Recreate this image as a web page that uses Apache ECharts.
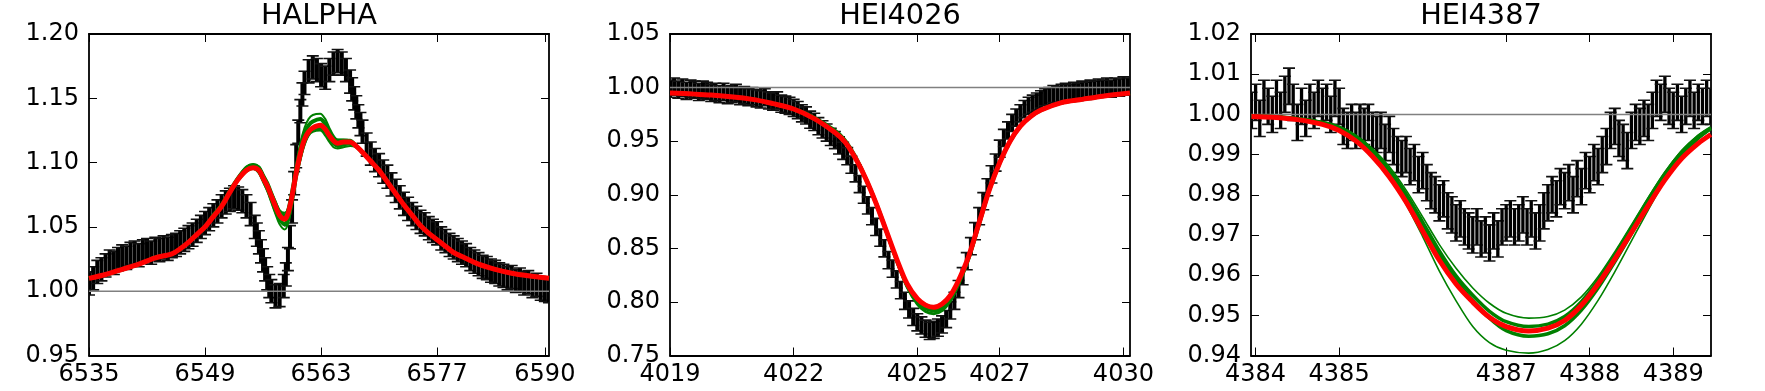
<!DOCTYPE html>
<html>
<head>
<meta charset="utf-8">
<title>Line profile fits</title>
<script src="https://cdn.jsdelivr.net/npm/echarts@6.0.0/dist/echarts.min.js"></script>
<style>
  html, body { margin: 0; padding: 0; background: #fff; }
  #main { width: 1765px; height: 391px; }
</style>
</head>
<body>
<div id="main"></div>
<script>
// panel titles and axes
const titles = ['HALPHA', 'HEI4026', 'HEI4387'];
const xMin = [6535, 4019, 4383.945];
const xMax = [6590.5, 4030.16, 4389.452];
const xTicks = [
    [6535, 6549, 6563, 6577, 6590],
    [4019, 4022, 4025, 4027, 4030],
    [4384, 4385, 4387, 4388, 4389]
];
const yMin = [0.95, 0.75, 0.94];
const yMax = [1.20, 1.05, 1.02];
const yStep = [0.05, 0.05, 0.01];
const continuum = 1.0;

// H-alpha: observed spectrum
const haWave = [
    6535, 6535.5, 6536, 6536.5, 6537, 6537.5, 6538, 6538.5, 6539, 6539.5,
    6540, 6540.5, 6541, 6541.5, 6542, 6542.5, 6543, 6543.5, 6544, 6544.5,
    6545, 6545.5, 6546, 6546.5, 6547, 6547.5, 6548, 6548.5, 6549, 6549.5,
    6550, 6550.5, 6551, 6551.5, 6552, 6552.5, 6553, 6553.5, 6554, 6554.5,
    6555, 6555.25, 6555.5, 6555.75, 6556, 6556.25, 6556.5, 6556.75, 6557, 6557.5,
    6558, 6558.5, 6558.75, 6559, 6559.25, 6559.5, 6559.75, 6560, 6560.25, 6560.5,
    6560.75, 6561, 6561.5, 6562, 6562.5, 6563, 6563.5, 6564, 6564.5, 6565,
    6565.5, 6566, 6566.5, 6566.75, 6567, 6567.25, 6567.5, 6567.75, 6568, 6568.5,
    6569, 6569.5, 6570, 6570.5, 6571, 6571.5, 6572, 6572.5, 6573, 6573.5,
    6574, 6574.5, 6575, 6575.5, 6576, 6576.5, 6577, 6577.5, 6578, 6578.5,
    6579, 6579.5, 6580, 6580.5, 6581, 6581.5, 6582, 6582.5, 6583, 6583.5,
    6584, 6584.5, 6585, 6585.5, 6586, 6586.5, 6587, 6587.5, 6588, 6588.5,
    6589, 6589.5, 6590, 6590.5
];
const haFlux = [
    1.006, 1.010, 1.015, 1.017, 1.020, 1.023, 1.022, 1.025, 1.027, 1.026,
    1.029, 1.030, 1.028, 1.031, 1.032, 1.030, 1.033, 1.032, 1.034, 1.033,
    1.035, 1.036, 1.038, 1.040, 1.042, 1.044, 1.047, 1.050, 1.053, 1.056,
    1.059, 1.062, 1.066, 1.069, 1.071, 1.073, 1.072, 1.070, 1.066, 1.060,
    1.050, 1.044, 1.038, 1.031, 1.024, 1.017, 1.010, 1.004, 1.000, 0.996,
    0.997, 1.004, 1.013, 1.025, 1.042, 1.062, 1.084, 1.105, 1.124, 1.140,
    1.153, 1.162, 1.171, 1.174, 1.172, 1.168, 1.166, 1.172, 1.177, 1.179,
    1.177, 1.172, 1.163, 1.157, 1.150, 1.143, 1.136, 1.130, 1.124, 1.114,
    1.107, 1.102, 1.098, 1.093, 1.089, 1.083, 1.078, 1.073, 1.068, 1.064,
    1.060, 1.057, 1.054, 1.052, 1.049, 1.047, 1.045, 1.041, 1.039, 1.036,
    1.034, 1.032, 1.030, 1.028, 1.025, 1.023, 1.021, 1.019, 1.018, 1.016,
    1.015, 1.013, 1.012, 1.010, 1.011, 1.008, 1.009, 1.006, 1.007, 1.004,
    1.005, 1.002, 1.001, 1.000
];
const haErr = 0.009;

// H-alpha: model (best fit in red, samples in green)
const haModelWave = [
    6535, 6537, 6539, 6541, 6543, 6545, 6546, 6547, 6548, 6549,
    6550, 6551, 6552, 6553, 6554, 6554.8, 6555.5, 6556, 6556.5, 6557,
    6557.5, 6558, 6558.6, 6559, 6559.5, 6560, 6560.5, 6561, 6561.5, 6562,
    6562.9, 6563.5, 6564, 6564.5, 6565, 6565.7, 6566.5, 6567.2, 6568, 6569,
    6570, 6571, 6572, 6573, 6574, 6575, 6576, 6577, 6578, 6579,
    6580, 6582, 6584, 6586, 6588, 6590.5
];
const haBest = [
    1.010, 1.013, 1.017, 1.021, 1.026, 1.029, 1.033, 1.038, 1.044, 1.050,
    1.058, 1.066, 1.077, 1.087, 1.094, 1.096, 1.094, 1.088, 1.082, 1.074,
    1.066, 1.059, 1.056, 1.060, 1.074, 1.092, 1.107, 1.118, 1.124, 1.127,
    1.129, 1.126, 1.121, 1.117, 1.115, 1.116, 1.116, 1.113, 1.108, 1.101,
    1.094, 1.085, 1.076, 1.067, 1.059, 1.051, 1.045, 1.040, 1.035, 1.030,
    1.027, 1.021, 1.017, 1.014, 1.012, 1.010
];
const haSampleHi = [
    1.010, 1.013, 1.017, 1.021, 1.026, 1.029, 1.033, 1.038, 1.044, 1.050,
    1.059, 1.068, 1.079, 1.089, 1.097, 1.099, 1.097, 1.091, 1.085, 1.077,
    1.070, 1.063, 1.061, 1.064, 1.079, 1.098, 1.115, 1.127, 1.134, 1.137,
    1.138, 1.134, 1.127, 1.121, 1.118, 1.118, 1.117, 1.113, 1.108, 1.101,
    1.094, 1.085, 1.076, 1.067, 1.059, 1.051, 1.045, 1.040, 1.035, 1.030,
    1.027, 1.021, 1.017, 1.014, 1.012, 1.010
];
const haSampleMidHi = [
    1.010, 1.013, 1.017, 1.021, 1.026, 1.029, 1.033, 1.038, 1.044, 1.050,
    1.059, 1.067, 1.078, 1.088, 1.096, 1.098, 1.096, 1.090, 1.084, 1.076,
    1.068, 1.061, 1.059, 1.062, 1.077, 1.095, 1.111, 1.123, 1.129, 1.132,
    1.134, 1.130, 1.124, 1.119, 1.117, 1.117, 1.117, 1.113, 1.108, 1.101,
    1.094, 1.085, 1.076, 1.067, 1.059, 1.051, 1.045, 1.040, 1.035, 1.030,
    1.027, 1.021, 1.017, 1.014, 1.012, 1.010
];
const haSampleMidLo = [
    1.010, 1.013, 1.017, 1.021, 1.026, 1.029, 1.033, 1.038, 1.044, 1.050,
    1.058, 1.066, 1.077, 1.087, 1.094, 1.096, 1.093, 1.087, 1.080, 1.072,
    1.063, 1.056, 1.052, 1.056, 1.071, 1.090, 1.105, 1.116, 1.123, 1.126,
    1.127, 1.124, 1.119, 1.115, 1.113, 1.114, 1.115, 1.113, 1.108, 1.101,
    1.094, 1.085, 1.076, 1.067, 1.059, 1.051, 1.045, 1.040, 1.035, 1.030,
    1.027, 1.021, 1.017, 1.014, 1.012, 1.010
];
const haSampleLo = [
    1.010, 1.013, 1.017, 1.021, 1.026, 1.029, 1.033, 1.038, 1.044, 1.050,
    1.058, 1.066, 1.076, 1.086, 1.093, 1.095, 1.092, 1.085, 1.078, 1.069,
    1.060, 1.052, 1.048, 1.052, 1.067, 1.087, 1.102, 1.114, 1.121, 1.124,
    1.125, 1.121, 1.116, 1.112, 1.111, 1.112, 1.113, 1.112, 1.108, 1.101,
    1.094, 1.085, 1.076, 1.067, 1.059, 1.051, 1.045, 1.040, 1.035, 1.030,
    1.027, 1.021, 1.017, 1.014, 1.012, 1.010
];

// He I 4026: observed spectrum
const he1Wave = [
    4019.0, 4019.1, 4019.2, 4019.3, 4019.4, 4019.5, 4019.6, 4019.7, 4019.8, 4019.9,
    4020.0, 4020.1, 4020.2, 4020.3, 4020.4, 4020.5, 4020.6, 4020.7, 4020.8, 4020.9,
    4021.0, 4021.1, 4021.2, 4021.3, 4021.4, 4021.5, 4021.6, 4021.7, 4021.8, 4021.9,
    4022.0, 4022.1, 4022.2, 4022.3, 4022.4, 4022.5, 4022.6, 4022.7, 4022.8, 4022.9,
    4023.0, 4023.1, 4023.2, 4023.3, 4023.4, 4023.5, 4023.6, 4023.7, 4023.8, 4023.9,
    4024.0, 4024.1, 4024.2, 4024.3, 4024.4, 4024.5, 4024.6, 4024.7, 4024.8, 4024.9,
    4025.0, 4025.1, 4025.2, 4025.3, 4025.4, 4025.5, 4025.6, 4025.7, 4025.8, 4025.9,
    4026.0, 4026.1, 4026.2, 4026.3, 4026.4, 4026.5, 4026.6, 4026.7, 4026.8, 4026.9,
    4027.0, 4027.1, 4027.2, 4027.3, 4027.4, 4027.5, 4027.6, 4027.7, 4027.8, 4027.9,
    4028.0, 4028.1, 4028.2, 4028.3, 4028.4, 4028.5, 4028.6, 4028.7, 4028.8, 4028.9,
    4029.0, 4029.1, 4029.2, 4029.3, 4029.4, 4029.5, 4029.6, 4029.7, 4029.8, 4029.9,
    4030.0, 4030.1
];
const he1Flux = [
    0.999, 1.001, 0.998, 1.000, 0.997, 0.999, 0.998, 0.996, 0.998, 0.997,
    0.995, 0.996, 0.994, 0.996, 0.993, 0.994, 0.995, 0.992, 0.993, 0.991,
    0.992, 0.990, 0.989, 0.991, 0.988, 0.987, 0.988, 0.985, 0.984, 0.983,
    0.981, 0.979, 0.976, 0.974, 0.970, 0.968, 0.964, 0.961, 0.958, 0.954,
    0.951, 0.946, 0.941, 0.936, 0.928, 0.920, 0.910, 0.900, 0.890, 0.880,
    0.870, 0.860, 0.850, 0.839, 0.831, 0.821, 0.811, 0.801, 0.793, 0.786,
    0.781, 0.778, 0.775, 0.773, 0.774, 0.776, 0.779, 0.784, 0.792, 0.801,
    0.812, 0.824, 0.838, 0.852, 0.866, 0.880, 0.894, 0.907, 0.919, 0.930,
    0.943, 0.953, 0.960, 0.967, 0.972, 0.976, 0.980, 0.983, 0.985, 0.987,
    0.989, 0.991, 0.992, 0.994, 0.993, 0.995, 0.996, 0.995, 0.997, 0.996,
    0.998, 0.997, 0.999, 0.998, 1.000, 0.999, 1.001, 0.999, 1.001, 1.000,
    1.002, 1.001
];
const he1Err = 0.008;

// He I 4026: model
const he1ModelWave = [
    4019, 4020, 4021, 4021.5, 4022, 4022.5, 4023, 4023.25, 4023.5, 4023.75,
    4024, 4024.25, 4024.5, 4024.75, 4025, 4025.2, 4025.4, 4025.6, 4025.8, 4026,
    4026.25, 4026.5, 4026.75, 4027, 4027.25, 4027.5, 4027.75, 4028, 4028.5, 4029,
    4029.5, 4030.16
];
const he1Best = [
    0.995, 0.993, 0.989, 0.985, 0.980, 0.971, 0.958, 0.949, 0.934, 0.915,
    0.892, 0.866, 0.840, 0.817, 0.803, 0.797, 0.795, 0.798, 0.806, 0.820,
    0.843, 0.874, 0.905, 0.930, 0.950, 0.964, 0.973, 0.979, 0.986, 0.989,
    0.992, 0.995
];
const he1SampleHi = [
    0.995, 0.993, 0.989, 0.985, 0.981, 0.973, 0.961, 0.952, 0.937, 0.917,
    0.893, 0.867, 0.841, 0.818, 0.804, 0.798, 0.796, 0.799, 0.807, 0.821,
    0.844, 0.875, 0.906, 0.931, 0.951, 0.965, 0.974, 0.980, 0.986, 0.989,
    0.992, 0.995
];
const he1SampleMid = [
    0.995, 0.993, 0.989, 0.985, 0.980, 0.971, 0.958, 0.949, 0.934, 0.915,
    0.892, 0.866, 0.839, 0.816, 0.800, 0.794, 0.792, 0.795, 0.803, 0.818,
    0.842, 0.873, 0.905, 0.930, 0.950, 0.964, 0.973, 0.979, 0.986, 0.989,
    0.992, 0.995
];
const he1SampleLo = [
    0.995, 0.993, 0.989, 0.985, 0.980, 0.971, 0.958, 0.949, 0.934, 0.915,
    0.892, 0.865, 0.838, 0.814, 0.798, 0.791, 0.789, 0.792, 0.801, 0.816,
    0.840, 0.872, 0.904, 0.930, 0.950, 0.964, 0.973, 0.979, 0.986, 0.989,
    0.992, 0.995
];

// He I 4387: observed spectrum
const he2Wave = [
    4383.95, 4384.00, 4384.05, 4384.10, 4384.15, 4384.20, 4384.25, 4384.30, 4384.35, 4384.40,
    4384.45, 4384.50, 4384.55, 4384.60, 4384.65, 4384.70, 4384.75, 4384.80, 4384.85, 4384.90,
    4384.95, 4385.00, 4385.05, 4385.10, 4385.15, 4385.20, 4385.25, 4385.30, 4385.35, 4385.40,
    4385.45, 4385.50, 4385.55, 4385.60, 4385.65, 4385.70, 4385.75, 4385.80, 4385.85, 4385.90,
    4385.95, 4386.00, 4386.05, 4386.10, 4386.15, 4386.20, 4386.25, 4386.30, 4386.35, 4386.40,
    4386.45, 4386.50, 4386.55, 4386.60, 4386.65, 4386.70, 4386.75, 4386.80, 4386.85, 4386.90,
    4386.95, 4387.00, 4387.05, 4387.10, 4387.15, 4387.20, 4387.25, 4387.30, 4387.35, 4387.40,
    4387.45, 4387.50, 4387.55, 4387.60, 4387.65, 4387.70, 4387.75, 4387.80, 4387.85, 4387.90,
    4387.95, 4388.00, 4388.05, 4388.10, 4388.15, 4388.20, 4388.25, 4388.30, 4388.35, 4388.40,
    4388.45, 4388.50, 4388.55, 4388.60, 4388.65, 4388.70, 4388.75, 4388.80, 4388.85, 4388.90,
    4388.95, 4389.00, 4389.05, 4389.10, 4389.15, 4389.20, 4389.25, 4389.30, 4389.35, 4389.40,
    4389.45
];
const he2Flux = [
    1.001, 1.003, 0.999, 1.004, 1.002, 1.000, 1.004, 1.001, 1.005, 1.007,
    1.003, 0.998, 1.002, 0.999, 1.003, 1.001, 1.004, 1.002, 1.003, 1.000,
    1.004, 1.002, 0.997, 0.996, 0.998, 0.996, 0.998, 0.997, 0.998, 0.996,
    0.995, 0.996, 0.993, 0.995, 0.992, 0.990, 0.989, 0.990, 0.987, 0.988,
    0.985, 0.986, 0.983, 0.981, 0.980, 0.978, 0.979, 0.976, 0.975, 0.973,
    0.974, 0.972, 0.971, 0.970, 0.972, 0.969, 0.970, 0.968, 0.971, 0.969,
    0.972, 0.973, 0.974, 0.972, 0.973, 0.975, 0.972, 0.974, 0.971, 0.973,
    0.976, 0.978, 0.980, 0.979, 0.982, 0.981, 0.983, 0.980, 0.984, 0.982,
    0.986, 0.985, 0.988, 0.987, 0.990, 0.992, 0.996, 0.997, 0.994, 0.993,
    0.991, 0.996, 0.998, 0.997, 0.999, 0.998, 1.001, 1.004, 1.003, 1.005,
    1.002, 1.001, 1.003, 1.000, 1.002, 1.004, 1.001, 1.003, 1.002, 1.004,
    1.002
];
const he2Err = 0.0045;

// He I 4387: model
const he2ModelWave = [
    4383.95, 4384.2, 4384.5, 4384.8, 4385.0, 4385.2, 4385.4, 4385.6, 4385.8, 4386.0,
    4386.2, 4386.4, 4386.6, 4386.8, 4387.0, 4387.27, 4387.5, 4387.7, 4387.9, 4388.1,
    4388.3, 4388.5, 4388.7, 4388.9, 4389.1, 4389.3, 4389.45
];
const he2Best = [
    0.9995, 0.9993, 0.9987, 0.9975, 0.9960, 0.9934, 0.9895, 0.9845, 0.9783, 0.9710,
    0.9637, 0.9578, 0.9533, 0.9495, 0.9472, 0.9461, 0.9468, 0.9487, 0.9525, 0.9578,
    0.9640, 0.9706, 0.9773, 0.9837, 0.9890, 0.9928, 0.9950
];
const he2SampleHi = [
    0.9997, 0.9996, 0.9991, 0.9982, 0.9970, 0.9948, 0.9915, 0.9870, 0.9812, 0.9745,
    0.9676, 0.9617, 0.9568, 0.9530, 0.9505, 0.9493, 0.9497, 0.9513, 0.9546, 0.9596,
    0.9658, 0.9725, 0.9793, 0.9856, 0.9910, 0.9948, 0.9968
];
const he2SampleMidA = [
    0.9996, 0.9995, 0.9990, 0.9980, 0.9968, 0.9945, 0.9910, 0.9862, 0.9802, 0.9732,
    0.9660, 0.9598, 0.9550, 0.9510, 0.9484, 0.9472, 0.9478, 0.9497, 0.9534, 0.9587,
    0.9650, 0.9718, 0.9788, 0.9853, 0.9906, 0.9946, 0.9967
];
const he2SampleMidB = [
    0.9995, 0.9994, 0.9989, 0.9978, 0.9965, 0.9941, 0.9905, 0.9857, 0.9797, 0.9726,
    0.9652, 0.9588, 0.9537, 0.9493, 0.9462, 0.9448, 0.9454, 0.9474, 0.9513, 0.9568,
    0.9633, 0.9703, 0.9775, 0.9843, 0.9900, 0.9942, 0.9965
];
const he2SampleLo = [
    0.9996, 0.9994, 0.9988, 0.9976, 0.9962, 0.9936, 0.9897, 0.9845, 0.9777, 0.9696,
    0.9610, 0.9536, 0.9472, 0.9432, 0.9413, 0.9406, 0.9415, 0.9437, 0.9478, 0.9537,
    0.9608, 0.9685, 0.9762, 0.9835, 0.9895, 0.9938, 0.9962
];

const panels = [
    { wave: haWave, flux: haFlux, err: haErr, mw: haModelWave, best: haBest, barWidth: 4,
      samples: [haSampleHi, haSampleMidHi, haSampleMidLo, haSampleLo], sampleWidth: [2, 4, 4, 2] },
    { wave: he1Wave, flux: he1Flux, err: he1Err, mw: he1ModelWave, best: he1Best, barWidth: 4,
      samples: [he1SampleHi, he1SampleMid, he1SampleLo], sampleWidth: [2, 4, 3] },
    { wave: he2Wave, flux: he2Flux, err: he2Err, mw: he2ModelWave, best: he2Best, barWidth: 3.3,
      samples: [he2SampleHi, he2SampleMidA, he2SampleMidB, he2SampleLo], sampleWidth: [1.6, 3.5, 3.5, 1.6] }
];

const FONT = 'DejaVu Sans';
const gridLeft = [89, 670, 1251];
const gridWidth = 460;
const gridTop = 34;
const gridHeight = 321.5;

const myChart = echarts.init(document.getElementById('main'), null, { renderer: 'canvas' });

const frameLine = { show: true, onZero: false, lineStyle: { color: '#000', width: 1.8 } };
const tickStyle = { color: '#000', width: 1 };

const grids = [], xAxes = [], yAxes = [], series = [], titleList = [];

panels.forEach((p, i) => {
    grids.push({
        left: gridLeft[i], top: gridTop, width: gridWidth, height: gridHeight,
        containLabel: false, outerBoundsMode: 'none', show: false
    });
    titleList.push({
        text: titles[i], left: gridLeft[i] + gridWidth / 2, top: 2,
        textAlign: 'center', padding: 0,
        textStyle: { fontFamily: FONT, fontSize: 28.8, fontWeight: 'normal', color: '#000' }
    });
    // bottom + top x axes
    xAxes.push({
        gridIndex: i, type: 'value', position: 'bottom', min: xMin[i], max: xMax[i],
        axisLine: frameLine,
        axisTick: { show: true, inside: true, length: 8, customValues: xTicks[i], lineStyle: tickStyle },
        axisLabel: { show: true, customValues: xTicks[i], margin: 7, color: '#000',
            fontFamily: FONT, fontSize: 24, formatter: v => String(v) },
        splitLine: { show: false }
    });
    xAxes.push({
        gridIndex: i, type: 'value', position: 'top', min: xMin[i], max: xMax[i],
        axisLine: frameLine,
        axisTick: { show: true, inside: true, length: 8, customValues: xTicks[i], lineStyle: tickStyle },
        axisLabel: { show: false },
        splitLine: { show: false }
    });
    // left + right y axes
    yAxes.push({
        gridIndex: i, type: 'value', position: 'left', min: yMin[i], max: yMax[i], interval: yStep[i],
        axisLine: frameLine,
        axisTick: { show: true, inside: true, length: 8, lineStyle: tickStyle },
        axisLabel: { show: true, margin: 10, color: '#000', fontFamily: FONT, fontSize: 24,
            formatter: v => v.toFixed(2) },
        splitLine: { show: false }
    });
    yAxes.push({
        gridIndex: i, type: 'value', position: 'right', min: yMin[i], max: yMax[i], interval: yStep[i],
        axisLine: frameLine,
        axisTick: { show: true, inside: true, length: 8, lineStyle: tickStyle },
        axisLabel: { show: false },
        splitLine: { show: false }
    });

    const xi = i * 2, yi = i * 2;

    // observed points with error bars
    series.push({
        type: 'custom', xAxisIndex: xi, yAxisIndex: yi, clip: true, z: 2,
        data: p.wave.map((w, k) => [w, p.flux[k] - p.err, p.flux[k] + p.err]),
        encode: { x: 0, y: [1, 2] },
        renderItem(params, api) {
            const lo = api.coord([api.value(0), api.value(1)]);
            const hi = api.coord([api.value(0), api.value(2)]);
            const cap = 6;
            const bar = { stroke: '#000', lineWidth: p.barWidth };
            const capStyle = { stroke: '#111', lineWidth: 1.6 };
            return {
                type: 'group',
                children: [
                    { type: 'line', shape: { x1: lo[0], y1: lo[1], x2: hi[0], y2: hi[1] }, style: bar },
                    { type: 'line', shape: { x1: lo[0] - cap, y1: lo[1], x2: lo[0] + cap, y2: lo[1] }, style: capStyle },
                    { type: 'line', shape: { x1: hi[0] - cap, y1: hi[1], x2: hi[0] + cap, y2: hi[1] }, style: capStyle }
                ]
            };
        }
    });

    // continuum level
    series.push({
        type: 'line', xAxisIndex: xi, yAxisIndex: yi, z: 3, silent: true,
        data: [[xMin[i], continuum], [xMax[i], continuum]],
        showSymbol: false, lineStyle: { color: '#808080', width: 1.5 }
    });

    // model samples
    p.samples.forEach((s, j) => {
        series.push({
            type: 'line', xAxisIndex: xi, yAxisIndex: yi, z: 4, clip: true,
            data: p.mw.map((w, k) => [w, s[k]]),
            showSymbol: false, smooth: 0.3,
            lineStyle: { color: '#008000', width: p.sampleWidth[j] }
        });
    });

    // best fit
    series.push({
        type: 'line', xAxisIndex: xi, yAxisIndex: yi, z: 5, clip: true,
        data: p.mw.map((w, k) => [w, p.best[k]]),
        showSymbol: false, smooth: 0.3,
        lineStyle: { color: '#ff0000', width: 5 }
    });
});

const option = {
    animation: false,
    backgroundColor: '#fff',
    title: titleList,
    grid: grids,
    xAxis: xAxes,
    yAxis: yAxes,
    series: series
};
myChart.setOption(option);
</script>
</body>
</html>
